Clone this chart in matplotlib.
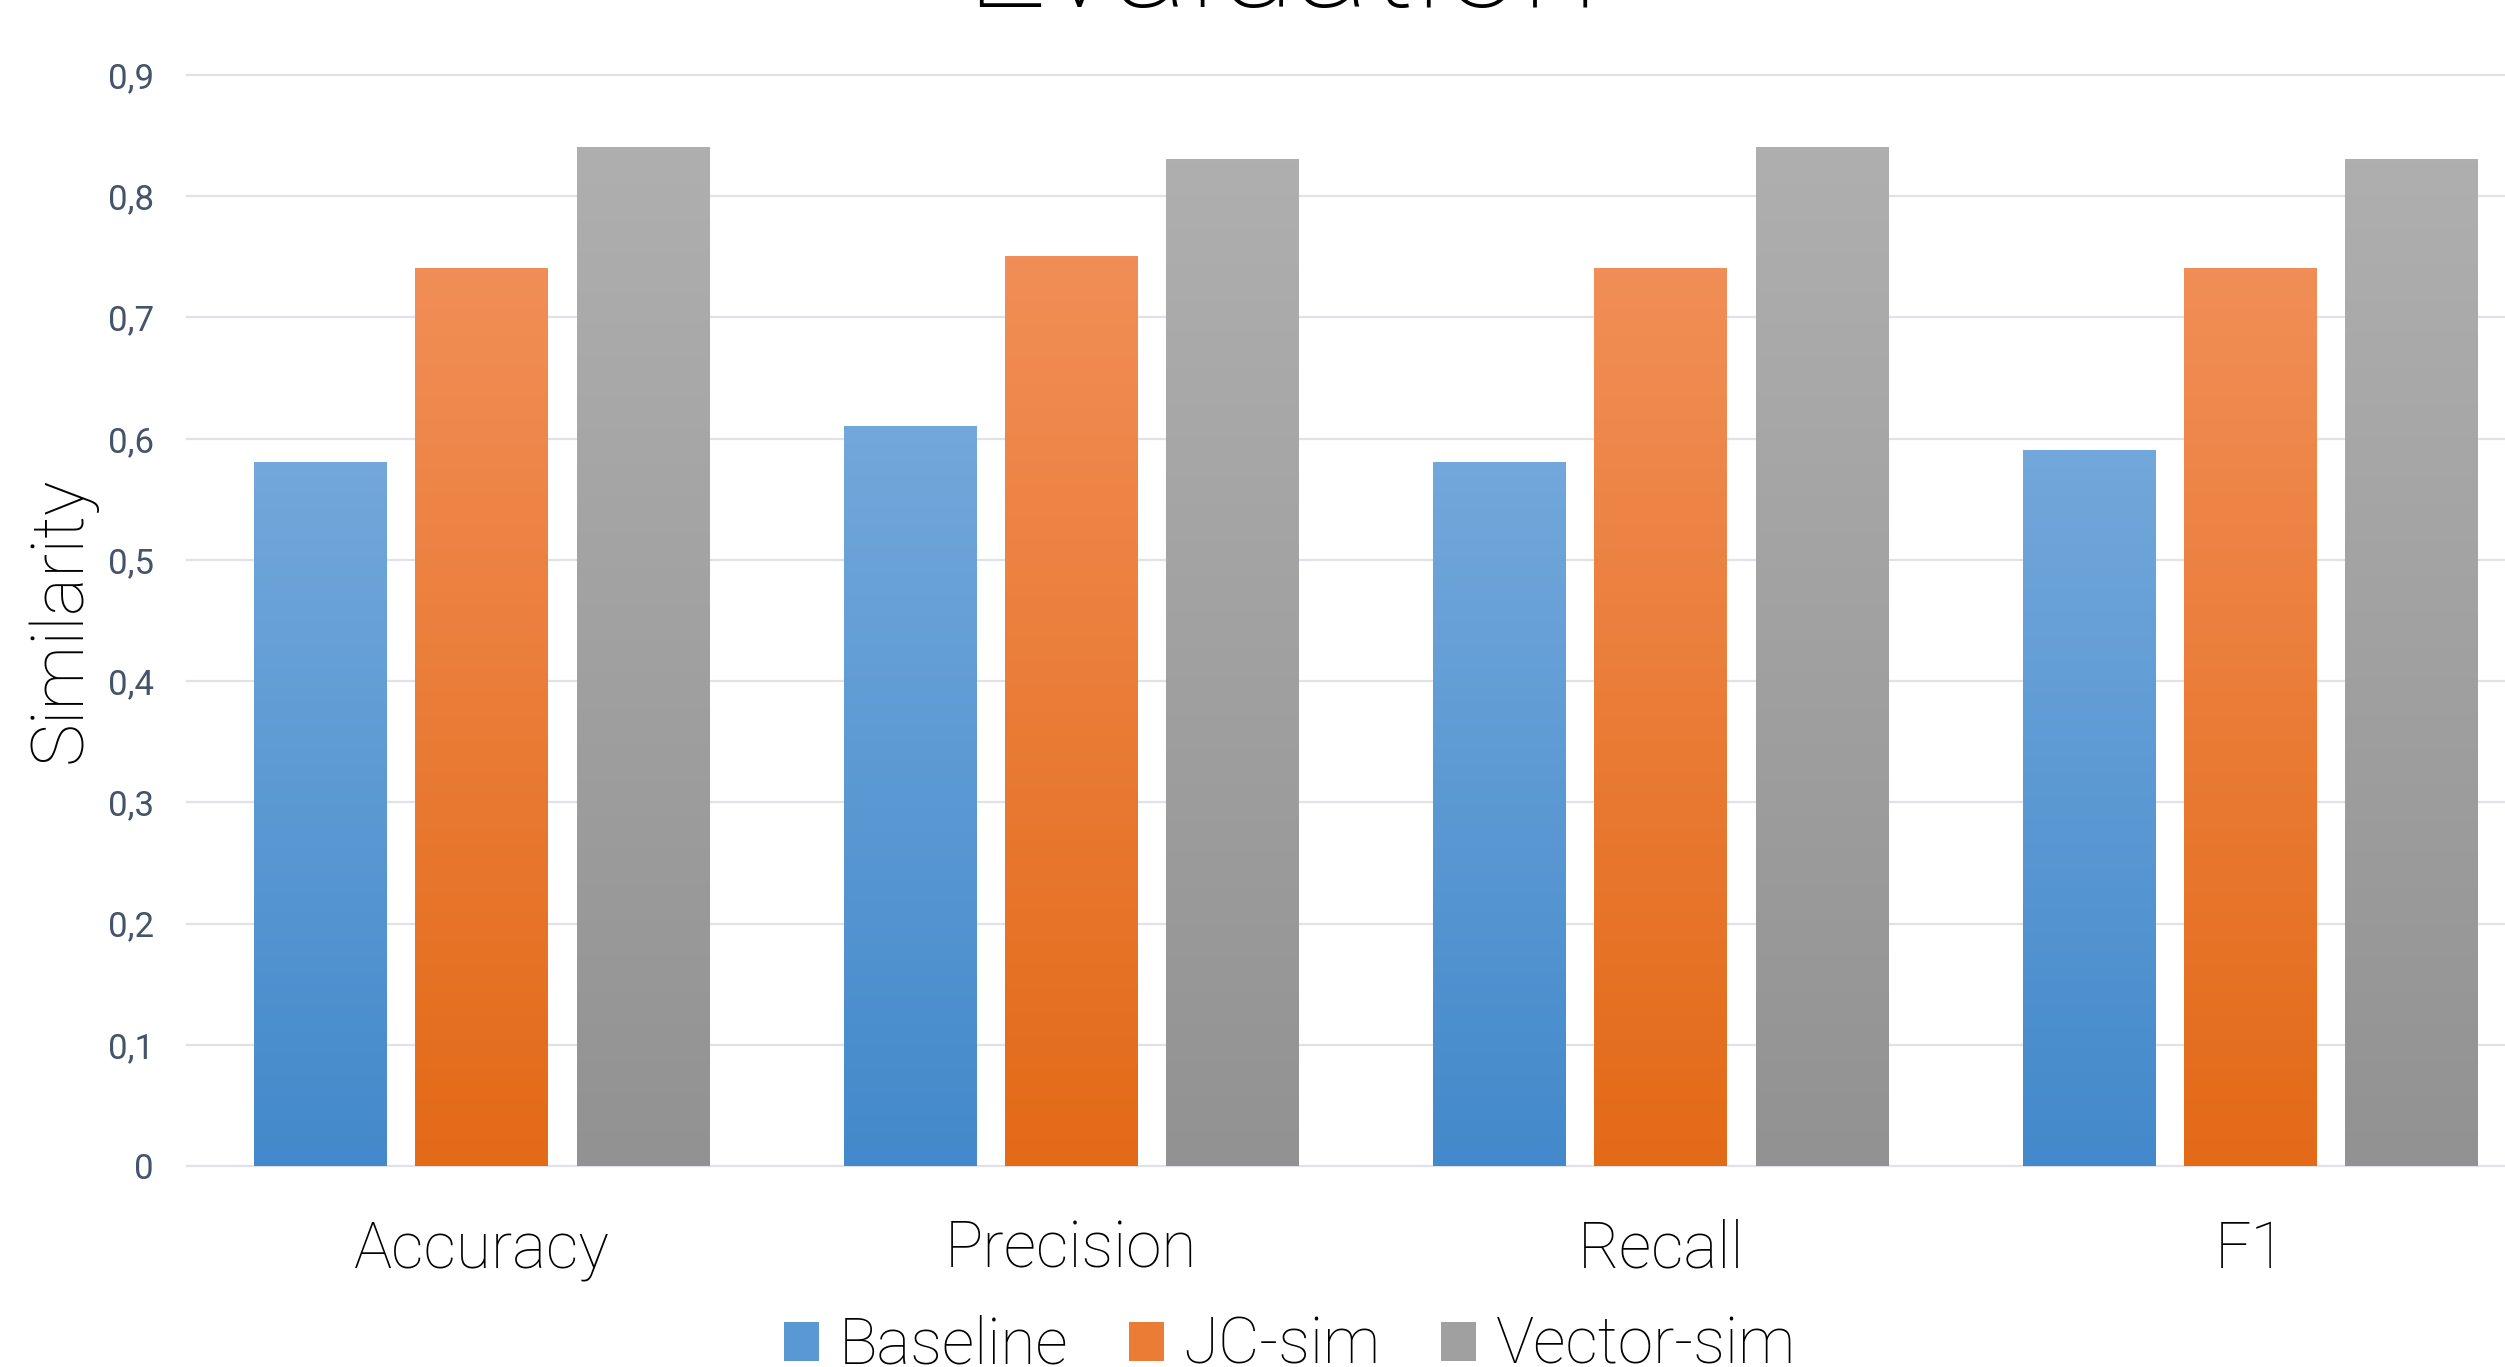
import numpy as np
import matplotlib.pyplot as plt
from matplotlib.colors import LinearSegmentedColormap
from matplotlib.patches import Patch

# data
categories = ['Accuracy', 'Precision', 'Recall', 'F1']
series_names = ['Baseline', 'JC-sim', 'Vector-sim']
baseline = [0.58, 0.61, 0.58, 0.59]
jc_sim = [0.74, 0.75, 0.74, 0.74]
vector_sim = [0.84, 0.83, 0.84, 0.83]
y_ticks = [0, 0.1, 0.2, 0.3, 0.4, 0.5, 0.6, 0.7, 0.8, 0.9]
y_labels = ['0', '0,1', '0,2', '0,3', '0,4', '0,5', '0,6', '0,7', '0,8', '0,9']

plt.rcParams['font.family'] = ['Roboto', 'DejaVu Sans']
FW = 'light'

# gradient (bottom, top) for each series
grads = [('#4389CB', '#72A8DB'), ('#E36A17', '#F18E57'), ('#929292', '#AFAFAF')]

fig = plt.figure(figsize=(25.05, 13.67), dpi=100)
ax = fig.add_axes([0.07465, 0.1470, 0.9413, 0.7981])

x = np.arange(len(categories))
w = 0.225
step = 0.2737
grad = np.linspace(0, 1, 256).reshape(-1, 1)

for i, vals in enumerate([baseline, jc_sim, vector_sim]):
    cmap = LinearSegmentedColormap.from_list('g%d' % i, grads[i])
    bars = ax.bar(x + (i - 1) * step, vals, width=w, color='none', edgecolor='none')
    for b in bars:
        x0 = b.get_x()
        ax.imshow(grad, cmap=cmap, origin='lower', aspect='auto', zorder=3,
                  extent=(x0, x0 + b.get_width(), 0, b.get_height()))

ax.set_xlim(-0.5, 3.5)
ax.set_ylim(0, 0.9)
for s in ax.spines.values():
    s.set_visible(False)
ax.set_yticks(y_ticks)
ax.set_yticklabels(y_labels, color='#44546A', fontsize=25)
ax.set_xticks(x)
ax.set_xticklabels(categories, fontsize=46, fontweight=FW)
ax.tick_params(axis='y', length=0, pad=24)
ax.tick_params(axis='x', length=0, pad=38)
ax.yaxis.grid(True, color='#DFE3E8', linewidth=1.6, zorder=0)
ax.set_axisbelow(True)
for gl in ax.get_ygridlines():
    gl.set_clip_on(False)

fig.text(61 / 2505, 1 - 620 / 1367, 'Similarity', rotation=90, ha='center', va='center',
         fontsize=52, fontweight=FW)
fig.text(1282 / 2505, 1 - 7 / 1367, 'Evaluation', ha='center', va='baseline',
         fontsize=102, fontweight=FW)

handles = [Patch(facecolor=c, edgecolor='none') for c in ['#5A98D3', '#EB7C36', '#A0A0A0']]
fig.legend(handles, series_names, loc='center', bbox_to_anchor=(1290 / 2505, 1 - 1346 / 1367),
           ncol=3, frameon=False, prop={'size': 46, 'weight': FW},
           handlelength=0.55, handleheight=0.55, handletextpad=0.3, columnspacing=0.95)

fig.savefig('out.png', dpi=100)
